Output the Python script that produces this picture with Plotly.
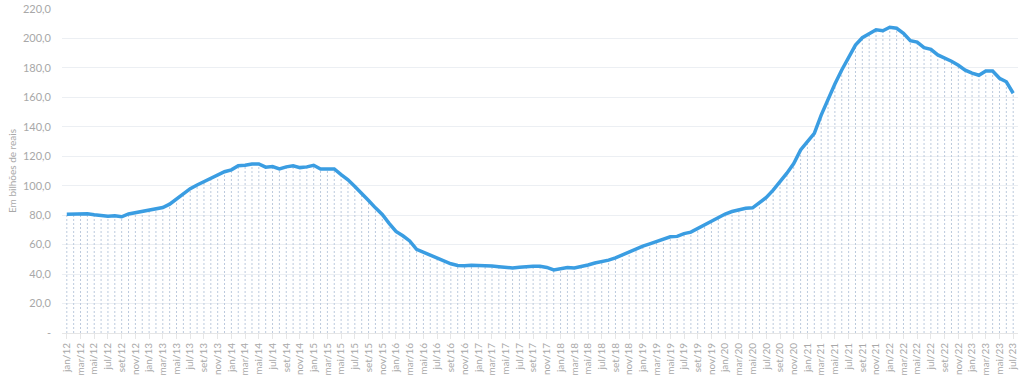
import plotly.graph_objects as go

months_pt = ["jan", "fev", "mar", "abr", "mai", "jun", "jul", "ago", "set", "out", "nov", "dez"]
years = list(range(12, 24))
categories = [f"{m}/{y}" for y in years for m in months_pt][:139]

values = [
    # 2012
    80.6, 80.7, 81.3, 81.0, 80.3, 79.8, 79.3, 79.6, 78.9, 80.8, 81.7, 82.5,
    # 2013
    83.3, 84.0, 85.2, 87.5, 91.0, 94.5, 98.0, 100.5, 102.8, 105.0, 107.5, 109.5,
    # 2014
    110.8, 113.6, 113.9, 114.8, 114.8, 112.6, 113.0, 111.4, 112.8, 113.6, 112.3, 112.8,
    # 2015
    113.9, 111.4, 111.4, 111.4, 107.5, 104.0, 99.5, 95.0, 90.0, 85.0, 80.5, 74.5,
    # 2016
    69.0, 66.0, 62.5, 56.8, 54.8, 53.2, 51.0, 49.3, 47.0, 45.8, 45.6, 46.0,
    # 2017
    45.9, 45.7, 45.5, 45.0, 44.6, 44.2, 44.7, 45.1, 45.4, 45.3, 44.5, 42.8,
    # 2018
    43.8, 44.4, 44.2, 45.0, 46.2, 47.5, 48.3, 49.5, 51.0, 53.0, 55.0, 57.5,
    # 2019
    59.0, 60.5, 62.0, 63.3, 65.3, 65.6, 67.5, 68.5, 71.0, 73.0, 76.0, 78.5,
    # 2020
    80.8, 82.5, 83.7, 84.7, 85.0, 88.5, 92.0, 97.0, 102.5, 108.5, 115.0, 124.3,
    # 2021
    130.0, 135.5, 148.0, 159.0, 169.0, 178.6, 187.0, 195.5, 200.5, 203.5, 205.9, 205.2,
    # 2022
    207.6, 206.9, 203.5, 198.5, 197.5, 193.8, 192.6, 188.8, 186.8, 184.5, 181.8, 178.5,
    # 2023
    176.5, 175.0, 177.9, 177.9, 173.0, 170.6, 162.8,
]

y_ticks = [0, 20, 40, 60, 80, 100, 120, 140, 160, 180, 200, 220]
y_ticktext = ["-" if v == 0 else f"{v:.1f}".replace(".", ",") for v in y_ticks]

x_idx = list(range(len(values)))
tick_idx = [i for i in x_idx if i % 2 == 0]
tick_text = [categories[i] for i in tick_idx]

# drop lines from each point to the axis
drop_x, drop_y = [], []
for i, v in zip(x_idx, values):
    drop_x += [i, i, None]
    drop_y += [0, v, None]

fig = go.Figure()
fig.add_trace(go.Scatter(
    x=drop_x, y=drop_y, mode="lines",
    line=dict(color="#bccadd", width=1, dash="2px,2px"),
    hoverinfo="skip", showlegend=False,
))
fig.add_trace(go.Scatter(
    x=x_idx, y=values, mode="lines",
    line=dict(color="#3a9de2", width=3.5),
    text=categories, showlegend=False,
))

fig.update_layout(
    width=1024, height=378,
    margin=dict(l=62, r=6, t=9, b=45),
    paper_bgcolor="white", plot_bgcolor="white",
    font=dict(family="Lato", color="#a8a8a8", size=11),
    xaxis=dict(
        range=[-0.7, 138.7], automargin=False,
        tickmode="array", tickvals=tick_idx, ticktext=tick_text,
        tickangle=-90, tickfont=dict(size=10, color="#a8a8a8"),
        showgrid=False, zeroline=False,
        showline=True, linecolor="#e6e6e6", linewidth=1,
        ticks="outside", ticklen=5, tickcolor="#e6e6e6",
    ),
    yaxis=dict(
        range=[0, 220], automargin=False,
        tickmode="array", tickvals=y_ticks, ticktext=y_ticktext,
        tickfont=dict(size=11, color="#a8a8a8"),
        showgrid=True, gridcolor="#eceff3", gridwidth=1,
        zeroline=False, ticklabelstandoff=10,
        title=dict(text="Em bilhões de reais", font=dict(size=10, color="#a8a8a8"), standoff=4),
    ),
)

fig.write_html(
    "out.html",
    config={"displayModeBar": False},
    post_script="document.body.style.margin='0';document.body.style.overflow='hidden';",
)
